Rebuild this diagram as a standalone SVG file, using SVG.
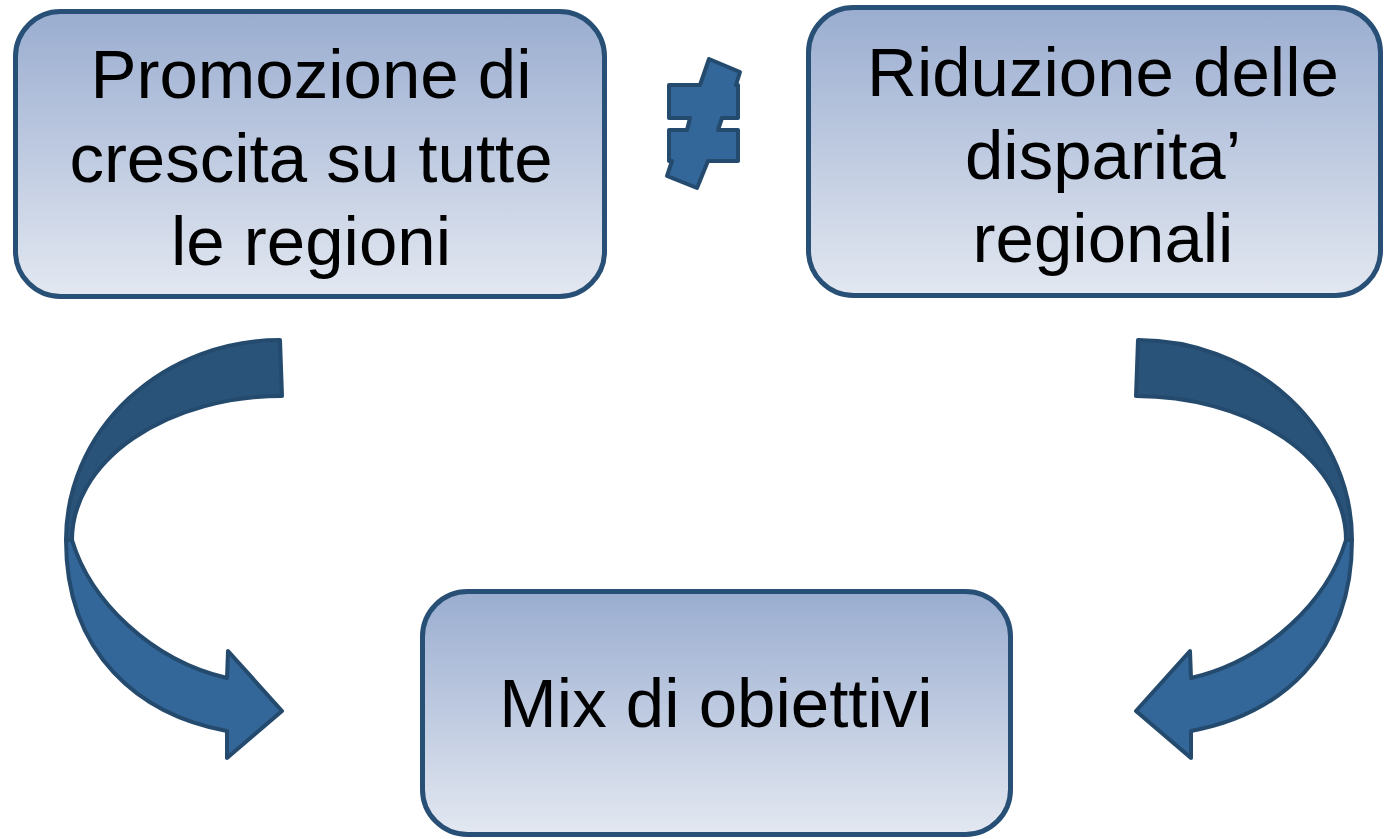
<svg xmlns="http://www.w3.org/2000/svg" width="1386" height="839" viewBox="0 0 1386 839">
<defs>
<linearGradient id="boxg" x1="0" y1="0" x2="0" y2="1">
<stop offset="0" stop-color="#9aadd0"/>
<stop offset="1" stop-color="#e3e8f1"/>
</linearGradient>
<style>
.box{fill:url(#boxg);stroke:#284f75;stroke-width:5}
.lbl{font-family:"Liberation Sans",Arial,sans-serif;font-size:69px;fill:#000;text-anchor:middle}
.back{fill:#2a5379;stroke:#244a6e;stroke-width:4;stroke-linejoin:round}
.front{fill:#336699;stroke:#244a6e;stroke-width:4;stroke-linejoin:round}
</style>
</defs>
<rect width="1386" height="839" fill="#ffffff"/>
<g id="node-promozione">
<rect class="box" x="15.5" y="11.5" width="589" height="285" rx="45" ry="45"/>
<text class="lbl" x="311" y="98">Promozione di</text>
<text class="lbl" x="311" y="182">crescita su tutte</text>
<text class="lbl" x="311" y="265">le regioni</text>
</g>
<g id="node-riduzione">
<rect class="box" x="808.5" y="7.5" width="572" height="288" rx="45" ry="45"/>
<text class="lbl" x="1103" y="96">Riduzione delle</text>
<text class="lbl" x="1103" y="179">disparita’</text>
<text class="lbl" x="1103" y="262">regionali</text>
</g>
<g id="node-mix">
<rect class="box" x="422.5" y="591.5" width="588" height="243" rx="45" ry="45"/>
<text class="lbl" x="716" y="727">Mix di obiettivi</text>
</g>
<g id="not-equal">
<path class="front" d="M709,59 L740,72 L736,85 L738,85 L738,118 L722,118 L718,130 L738,130 L738,161 L708,161 L697,188 L667,176 L672,161 L669,161 L669,130 L687,130 L690,118 L669,118 L669,85 L700,85 Z"/>
</g>
<g id="connectors">
<g id="arrow-left">
<path class="front" d="M66,540 C66,655 140,715 227,731 L227,758 L282,711 L228,651 L227,678 C150,660 90,600 72,540 Z"/>
<path class="back" d="M280,340 L282,396 A210 144 0 0 0 72,540 L66,540 A214 200 0 0 1 280,340 Z"/>
</g>
<g id="arrow-right" transform="translate(1418,0) scale(-1,1)">
<path class="front" d="M66,540 C66,655 140,715 227,731 L227,758 L282,711 L228,651 L227,678 C150,660 90,600 72,540 Z"/>
<path class="back" d="M280,340 L282,396 A210 144 0 0 0 72,540 L66,540 A214 200 0 0 1 280,340 Z"/>
</g>
</g>
</svg>
